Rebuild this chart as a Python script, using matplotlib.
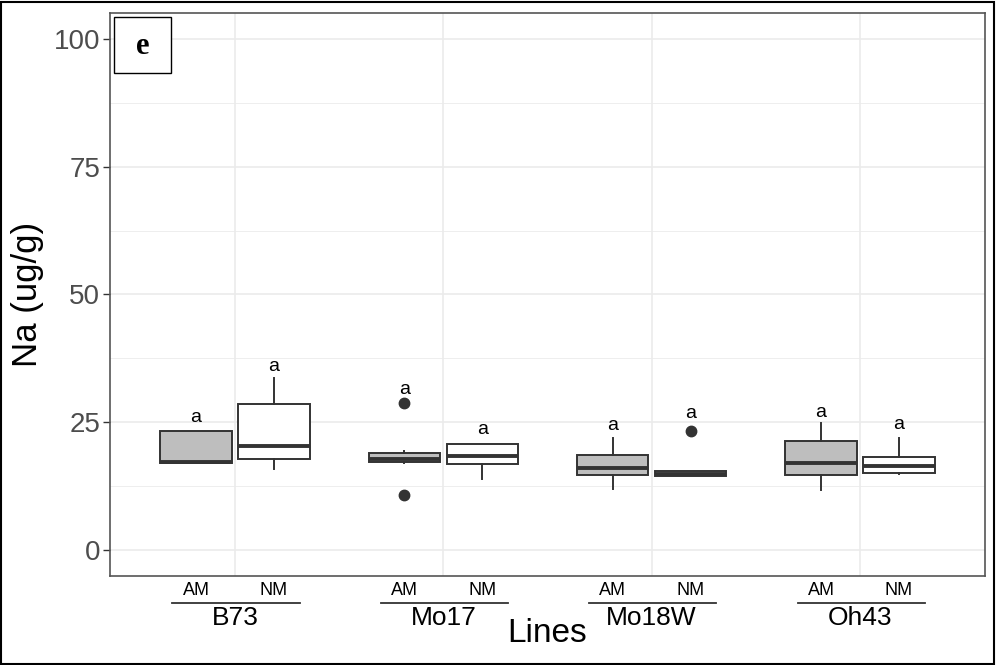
import matplotlib
matplotlib.use("Agg")
import matplotlib.pyplot as plt
from matplotlib.patches import Rectangle
from matplotlib.lines import Line2D

plt.rcParams['font.family'] = ['Liberation Sans', 'DejaVu Sans']

lines = ["B73", "Mo17", "Mo18W", "Oh43"]
treatments = ["AM", "NM"]
fills = {"AM": "#bebebe", "NM": "#ffffff"}

# box statistics (ug/g)
q1 = {"AM": [17.1, 17.2, 14.75, 14.8], "NM": [17.9, 16.8, 14.6, 15.1]}
med = {"AM": [17.3, 17.8, 16.2, 17.0], "NM": [20.35, 18.4, 15.0, 16.4]}
q3 = {"AM": [23.4, 19.1, 18.7, 21.3], "NM": [28.6, 20.8, 15.6, 18.3]}
whislo = {"AM": [17.1, 17.0, 12.0, 11.9], "NM": [16.0, 14.0, 14.6, 14.9]}
whishi = {"AM": [23.4, 19.4, 21.9, 24.85], "NM": [33.6, 20.8, 15.6, 21.9]}
fliers = {"AM": [[], [28.8, 10.9], [], []], "NM": [[], [], [23.35], []]}
letters = {"AM": ["a", "a", "a", "a"], "NM": ["a", "a", "a", "a"]}
letter_y = {"AM": [25.1, 30.5, 23.5, 26.1], "NM": [35.0, 22.7, 25.8, 23.7]}

y_ticks = [0, 25, 50, 75, 100]
y_minor = [12.5, 37.5, 62.5, 87.5]

fig = plt.figure(figsize=(9.96, 6.65), dpi=100)
ax = fig.add_axes([0.1104, 0.1338, 0.8786, 0.8467])

edge = "#333333"
offset = 0.187
bw = 0.342
for ti, t in enumerate(treatments):
    sgn = -1 if t == "AM" else 1
    stats = []
    pos = []
    for i, ln in enumerate(lines):
        stats.append(dict(med=med[t][i], q1=q1[t][i], q3=q3[t][i],
                          whislo=whislo[t][i], whishi=whishi[t][i],
                          fliers=fliers[t][i], label=f"{ln}-{t}"))
        pos.append(i + 1 + sgn * offset)
    ax.bxp(stats, positions=pos, widths=bw, patch_artist=True,
           showcaps=False, manage_ticks=False,
           boxprops=dict(facecolor=fills[t], edgecolor=edge, linewidth=1.4),
           medianprops=dict(color=edge, linewidth=2.8, solid_capstyle='butt'),
           whiskerprops=dict(color=edge, linewidth=1.4),
           flierprops=dict(marker='o', markerfacecolor=edge, markeredgecolor=edge,
                           markersize=7.5), zorder=3)
    for i in range(len(lines)):
        ax.text(pos[i], letter_y[t][i], letters[t][i], ha='center', va='baseline',
                fontsize=14, color='black', zorder=4)

ax.set_xlim(0.4, 4.6)
ax.set_ylim(-5, 105)
ax.set_yticks(y_ticks)
ax.set_yticks(y_minor, minor=True)
ax.set_xticks([1, 2, 3, 4])
ax.set_xticklabels([])
ax.tick_params(axis='x', length=0)
ax.tick_params(axis='y', which='major', length=5, width=1, color=edge,
               labelsize=20, labelcolor='#4d4d4d', pad=2)
ax.tick_params(axis='y', which='minor', length=0)
ax.grid(True, which='major', color='#ebebeb', linewidth=1.2, zorder=0)
ax.grid(True, which='minor', axis='y', color='#ebebeb', linewidth=0.6, zorder=0)
ax.set_axisbelow(True)
for s in ax.spines.values():
    s.set_color('#555555')
    s.set_linewidth(1.2)

fig.text(27 / 996, (665 - 294.5) / 665, "Na (ug/g)", rotation=90, ha='center',
         va='center', fontsize=25)

# x axis nested labels
trans = ax.get_xaxis_transform()
for i, ln in enumerate(lines):
    c = i + 1
    for t in treatments:
        sgn = -1 if t == "AM" else 1
        ax.text(c + sgn * offset, -0.026, t, transform=trans, ha='center',
                va='center', fontsize=13, color='black', clip_on=False)
    ax.add_line(Line2D([c - 0.30, c + 0.31], [-0.0475, -0.0475], transform=trans,
                       color='#333333', linewidth=1.3, clip_on=False))
    ax.text(c, -0.075, ln, transform=trans, ha='center', va='center',
            fontsize=19, color='black', clip_on=False)

fig.text(0.549, (665 - 634) / 665, "Lines", ha='center', va='center', fontsize=24)

# panel tag
ax.add_patch(Rectangle((114 / 996, (665 - 73) / 665), 57 / 996, 56 / 665,
                       transform=fig.transFigure, facecolor='white',
                       edgecolor='black', linewidth=1.0, zorder=5))
fig.text(142.5 / 996, (665 - 47) / 665, "e", ha='center', va='center', fontsize=22,
         fontweight='bold', family=['Liberation Serif', 'DejaVu Serif'], zorder=6)

# outer frame
fig.add_artist(Rectangle((0.001, 0.0015), 0.997, 0.996, transform=fig.transFigure,
                         facecolor='none', edgecolor='black', linewidth=1.5))

fig.savefig("out.png", dpi=100)
